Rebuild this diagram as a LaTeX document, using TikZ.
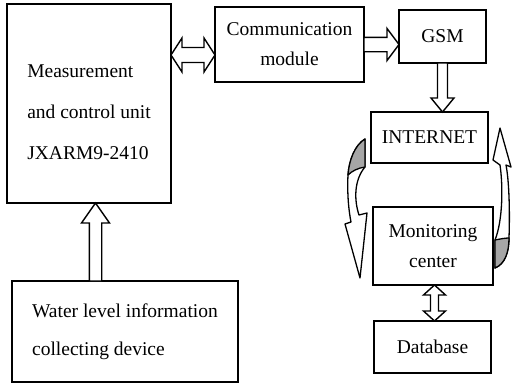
\documentclass[tikz,border=0pt]{standalone}
\usepackage{fontspec}
\setmainfont{Liberation Serif}
\usetikzlibrary{calc}
\begin{document}
\begin{tikzpicture}[x=1pt,y=-1pt,
  box/.style={draw=black, line width=1.3pt, inner sep=0pt, outer sep=0pt,
    align=center, font=\fontsize{19.5}{30}\selectfont},
  blk/.style={draw=black, fill=white, line width=1.4pt, line join=miter},
  curv/.style={draw=black, fill=white, line width=1.3pt, line join=round},
  shade/.style={curv, fill=black!35}]
\useasboundingbox[fill=white] (0,0) rectangle (512,386);

% blocks
\node[box, minimum width=164pt, minimum height=199pt] (mcu) at (89,103.5) {};
\node[font=\fontsize{19.5}{41}\selectfont, align=left, inner sep=0pt]
  (mcutext) at ([yshift=-8.5pt]mcu.center) {Measurement\\and control unit\\JXARM9-2410};
\node[box, minimum width=149pt, minimum height=75pt] (comm) at (289.5,44.5) {Communication\\module};
\node[box, minimum width=87pt, minimum height=53pt] (gsm) at (442.5,36.5) {GSM};
\node[box, minimum width=117pt, minimum height=51pt] (inet) at (429.5,137.5) {INTERNET};
\node[box, minimum width=120pt, minimum height=78pt] (mon) at (433,246) {Monitoring\\center};
\node[box, minimum width=117pt, minimum height=52pt] (db) at (432.5,347) {Database};
\node[box, minimum width=226pt, minimum height=101pt, align=left,
  font=\fontsize{19.5}{38}\selectfont] (water) at (125,331.5) {Water level information\\collecting device};

% reference lines for the block arrows
\coordinate (h1) at (0,55);
\coordinate (h2) at (0,44.5);
\coordinate (v1) at (95.5,0);
\coordinate (v2) at (434.5,0);

% measurement unit <-> communication module
\path (mcu.east |- h1) coordinate (a1) (comm.west |- h1) coordinate (a2);
\draw[blk] (a1) -- ++(11,-17) -- ++(0,9.5) -- ($(a2)+(-11,-7.5)$) -- ++(0,-9.5) -- (a2)
  -- ++(-11,17) -- ++(0,-9.5) -- ($(a1)+(11,7.5)$) -- ++(0,9.5) -- cycle;

% communication module -> GSM
\path (comm.east |- h2) coordinate (b1) (gsm.west |- h2) coordinate (b2);
\draw[blk] ($(b1)+(0,-7.2)$) -- ($(b2)+(-12,-7.2)$) -- ++(0,-8.8) -- (b2)
  -- ($(b2)+(-12,16)$) -- ++(0,-8.8) -- ($(b1)+(0,7.2)$) -- cycle;

% GSM -> INTERNET
\path (gsm.south) coordinate (c1) (inet.north -| gsm.south) coordinate (c2);
\draw[blk] ($(c1)+(-5,0)$) -- ($(c2)+(-5,-14)$) -- ++(-6.5,0) -- (c2)
  -- ($(c2)+(11.5,-14)$) -- ++(-6.5,0) -- ($(c1)+(5,0)$) -- cycle;

% water level device -> measurement unit
\path (water.north -| v1) coordinate (d1) (mcu.south -| v1) coordinate (d2);
\draw[blk] ($(d1)+(-6.2,0)$) -- ($(d2)+(-6.2,20)$) -- ++(-7.8,0) -- (d2)
  -- ($(d2)+(14,20)$) -- ++(-7.8,0) -- ($(d1)+(6.2,0)$) -- cycle;

% monitoring center <-> database
\path (mon.south -| v2) coordinate (e1) (db.north -| v2) coordinate (e2);
\draw[blk] (e1) -- ++(11,10) -- ++(-7,0) -- ($(e2)+(4,-10)$) -- ++(7,0) -- (e2)
  -- ++(-11,-10) -- ++(7,0) -- ($(e1)+(-4,10)$) -- ++(-7,0) -- cycle;

% curved arrow, INTERNET down to monitoring center
\draw[curv] (365,139) .. controls (355,145) and (349,160) .. (348,175)
  .. controls (347,195) and (349,212) .. (351,222) -- (345,224) -- (360,278)
  -- (367,213) -- (359,215) .. controls (354,200) and (354,180) .. (365,167) -- cycle;
\draw[shade] (365,139) .. controls (355,145) and (349,160) .. (348,175)
  .. controls (352,171) and (358,168) .. (365,167) -- cycle;

% curved arrow, monitoring center up to INTERNET
\draw[curv] (495,268) .. controls (505,264) and (509,252) .. (509,238)
  .. controls (510,210) and (509,180) .. (506,165) -- (511,167) -- (500,128)
  -- (493,160) -- (500,165) .. controls (503,185) and (503,220) .. (495,240) -- cycle;
\draw[shade] (495,268) .. controls (505,264) and (509,252) .. (509,238)
  .. controls (505,238) and (500,239) .. (495,240) -- cycle;
\end{tikzpicture}
\end{document}
